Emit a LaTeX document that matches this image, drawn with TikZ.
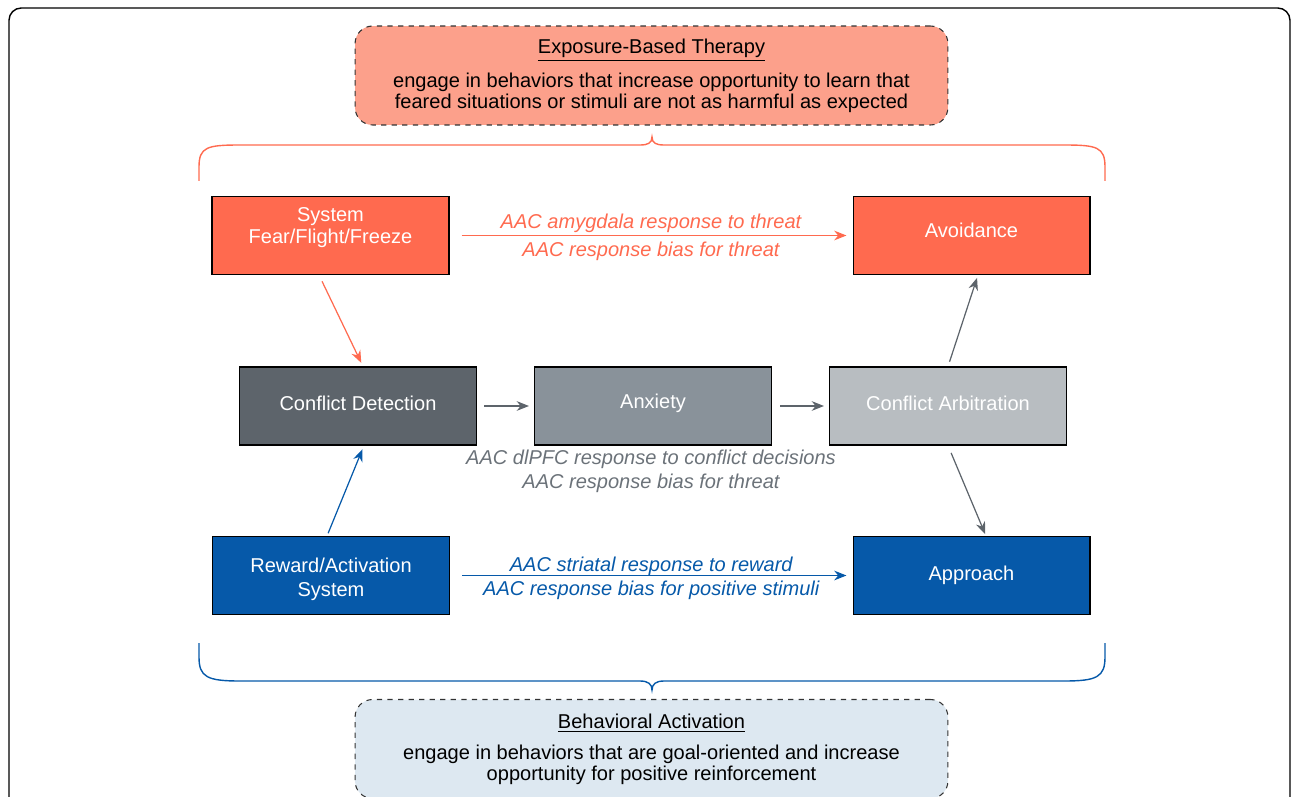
\documentclass[tikz,border=0pt]{standalone}
\usepackage{fontspec}
\setmainfont{Liberation Sans}
\usetikzlibrary{arrows.meta}
\definecolor{threat}{HTML}{FF6A4F}
\definecolor{threatpale}{HTML}{FCA08B}
\definecolor{reward}{HTML}{0659A9}
\definecolor{rewardpale}{HTML}{DDE8F1}
\definecolor{greydark}{HTML}{5D646B}
\definecolor{greymid}{HTML}{89929A}
\definecolor{greylight}{HTML}{B8BDC1}
\definecolor{greytext}{HTML}{6B7279}
\begin{document}
\begin{tikzpicture}[x=0.02cm,y=-0.02cm,
  font=\fontsize{11.4}{12.4}\selectfont,
  stage/.style={draw=black,line width=0.6pt,text=white,align=center,
    minimum width=4.74cm,minimum height=1.56cm},
  therapy/.style={draw=black!80,dashed,line width=0.6pt,rounded corners=10pt,
    align=center,minimum width=11.86cm,minimum height=1.98cm,
    font=\fontsize{11.4}{11.9}\selectfont},
  effect/.style={font=\fontsize{11.4}{12.4}\selectfont\itshape},
  link/.style={line width=0.7pt,-{Stealth[length=7pt,width=5.5pt]}},
  brace/.style={line width=0.8pt}]
\useasboundingbox (0,0) rectangle (1292,797);
\clip (0,0) rectangle (1292,797);
\draw[line width=0.8pt,rounded corners=7pt] (9,8) rectangle (1290,830);

\node[therapy,fill=threatpale] (ebt) at (651.5,75.5)
  {\underline{Exposure-Based Therapy}\\[5.7pt]
   engage in behaviors that increase opportunity to learn that\\
   feared situations or stimuli are not as harmful as expected};
\node[therapy,fill=rewardpale] (ba) at (651.5,749)
  {\underline{Behavioral Activation}\\[5.7pt]
   engage in behaviors that are goal-oriented and increase\\
   opportunity for positive reinforcement};

\draw[brace,threat] (199,181) -- (199,167)
  .. controls (199,147) and (207,145) .. (240,145) -- (640,145)
  .. controls (648,145) and (652,143) .. (652,137)
  .. controls (652,143) and (656,145) .. (664,145) -- (1064,145)
  .. controls (1097,145) and (1105,147) .. (1105,167) -- (1105,181);
\draw[brace,reward] (199,643) -- (199,657)
  .. controls (199,677) and (207,681) .. (240,681) -- (640,681)
  .. controls (648,681) and (652,684) .. (652,690)
  .. controls (652,684) and (656,681) .. (664,681) -- (1064,681)
  .. controls (1097,681) and (1105,677) .. (1105,657) -- (1105,643);

\node[stage,fill=threat,text depth=11.4pt] (fear) at (330.5,235.5)
  {System\\Fear/Flight/Freeze};
\node[stage,fill=threat,text depth=5.7pt] (avoid) at (971.5,235.5) {Avoidance};
\node[stage,fill=greydark,text depth=3.4pt] (detect) at (358,406)
  {Conflict Detection};
\node[stage,fill=greymid,text depth=5.8pt] (anxiety) at (653,406) {Anxiety};
\node[stage,fill=greylight,text depth=3.4pt] (arbit) at (948,406)
  {Conflict Arbitration};
\node[stage,fill=reward,text height=26.3pt,
  font=\fontsize{11.4}{13.6}\selectfont] (rewsys) at (331,575.5)
  {Reward/Activation\\System};
\node[stage,fill=reward] (approach) at (971.5,575.5) {Approach};
\node[text=greytext,align=center,effect,font=\fontsize{11.4}{13.6}\selectfont\itshape]
  (anxlab) at (651,471)
  {AAC dlPFC response to conflict decisions\\AAC response bias for threat};

\draw[link,threat,shorten <=0.24cm,shorten >=0.12cm] (fear) -- (avoid)
  node[midway,above,inner sep=1pt,effect]
    {AAC amygdala response to threat}
  node[midway,below,inner sep=3.5pt,effect]
    {AAC response bias for threat};
\draw[link,reward,shorten <=0.24cm,shorten >=0.12cm] (rewsys) -- (approach)
  node[midway,above,inner sep=1pt,yshift=-1.7pt,effect]
    {AAC striatal response to reward}
  node[midway,below,inner sep=3pt,effect]
    {AAC response bias for positive stimuli};
\draw[link,threat,shorten <=0.14cm,shorten >=0.08cm]
  ([xshift=-0.23cm]fear.south) -- ([xshift=0.1cm]detect.north);
\draw[link,reward,shorten <=0.06cm,shorten >=0.08cm]
  ([xshift=-0.08cm]rewsys.north) -- ([xshift=0.12cm]detect.south);
\draw[link,greydark,shorten <=0.14cm,shorten >=0.1cm] (detect) -- (anxiety);
\draw[link,greydark,shorten <=0.16cm,shorten >=0.1cm] (anxiety) -- (arbit);
\draw[link,greydark,shorten <=0.1cm,shorten >=0.06cm]
  (arbit.north) -- ([xshift=0.13cm]avoid.south);
\draw[link,greydark,shorten <=0.16cm,shorten >=0.04cm]
  (arbit.south) -- ([xshift=0.29cm]approach.north);
\end{tikzpicture}
\end{document}
